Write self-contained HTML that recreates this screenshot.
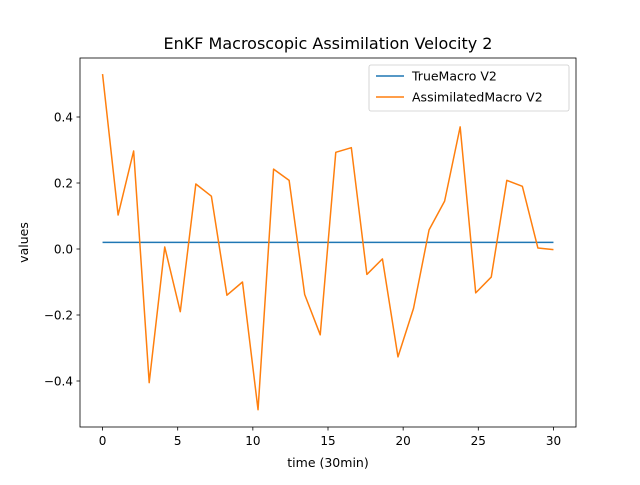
<!DOCTYPE html>
<html><head><meta charset="utf-8"><style>body{margin:0;background:#fff}svg{font-family:"DejaVu Sans","Liberation Sans",sans-serif}</style></head>
<body>
<svg id="chart" width="640" height="480" xmlns="http://www.w3.org/2000/svg"></svg>
<script>
const xTicks=[0,5,10,15,20,25,30];
const yTicks=[-0.4,-0.2,0.0,0.2,0.4];
const yTickLabels=["−0.4","−0.2","0.0","0.2","0.4"];
const trueValues=[0.02,0.02];
const trueTimes=[0,30];
const assimValues=[0.53,0.103,0.297,-0.405,0.006,-0.19,0.197,0.16,-0.14,-0.1,-0.487,0.242,0.208,-0.138,-0.26,0.293,0.307,-0.077,-0.03,-0.327,-0.18,0.058,0.145,0.37,-0.133,-0.085,0.208,0.19,0.003,-0.002];
const L=80,R=576,T=58,B=427;
const xMin=-1.5,xMax=31.5,yMin=-0.5394,yMax=0.5788;
const X=v=>L+(v-xMin)/(xMax-xMin)*(R-L);
const Y=v=>B-(v-yMin)/(yMax-yMin)*(B-T);
const svg=document.getElementById('chart');
const NS='http://www.w3.org/2000/svg';
function mk(tag,attrs,txt){const e=document.createElementNS(NS,tag);for(const k in attrs)e.setAttribute(k,attrs[k]);if(txt!==undefined)e.textContent=txt;svg.appendChild(e);return e;}
const n=assimValues.length;
const times=assimValues.map((_,i)=>i*30/(n-1));
let e=mk('polyline',{points:trueTimes.map((t,i)=>X(t)+','+Y(trueValues[i])).join(' '),fill:'none',stroke:'#1f77b4','stroke-width':1.5});

e=mk('polyline',{points:times.map((t,i)=>X(t)+','+Y(assimValues[i])).join(' '),fill:'none',stroke:'#ff7f0e','stroke-width':1.5,'stroke-linejoin':'round'});

e=mk('rect',{x:L,y:T,width:R-L,height:B-T,fill:'none',stroke:'#000','stroke-width':0.8});

xTicks.forEach(t=>{const x=X(t);
 let a=mk('line',{x1:x,x2:x,y1:B,y2:B+3.5,stroke:'#000','stroke-width':0.8});
 a=mk('text',{x:x,y:B+18,'font-size':12,'text-anchor':'middle'},String(t));});
yTicks.forEach((t,i)=>{const y=Y(t);
 let a=mk('line',{x1:L-3.5,x2:L,y1:y,y2:y,stroke:'#000','stroke-width':0.8});
 a=mk('text',{x:L-7,y:y+4.5,'font-size':12,'text-anchor':'end'},yTickLabels[i]);});
e=mk('text',{x:(L+R)/2,y:T-9,'font-size':16,'text-anchor':'middle'},'EnKF Macroscopic Assimilation Velocity 2');
e=mk('text',{x:(L+R)/2,y:467,'font-size':12.5,'text-anchor':'middle'},'time (30min)');
e=mk('text',{x:28,y:(T+B)/2,'font-size':12.5,'text-anchor':'middle',transform:`rotate(-90 28 ${(T+B)/2})`},'values');
e=mk('rect',{x:369,y:65,width:200,height:46,rx:2,fill:'#fff',stroke:'#ccc','stroke-width':0.8});
e=mk('line',{x1:376,x2:404,y1:76,y2:76,stroke:'#1f77b4','stroke-width':1.5});
e=mk('text',{x:412,y:80.5,'font-size':12.5},'TrueMacro V2');
e=mk('line',{x1:376,x2:404,y1:97,y2:97,stroke:'#ff7f0e','stroke-width':1.5});
e=mk('text',{x:412,y:101.5,'font-size':12.5},'AssimilatedMacro V2');
</script>
</body></html>
